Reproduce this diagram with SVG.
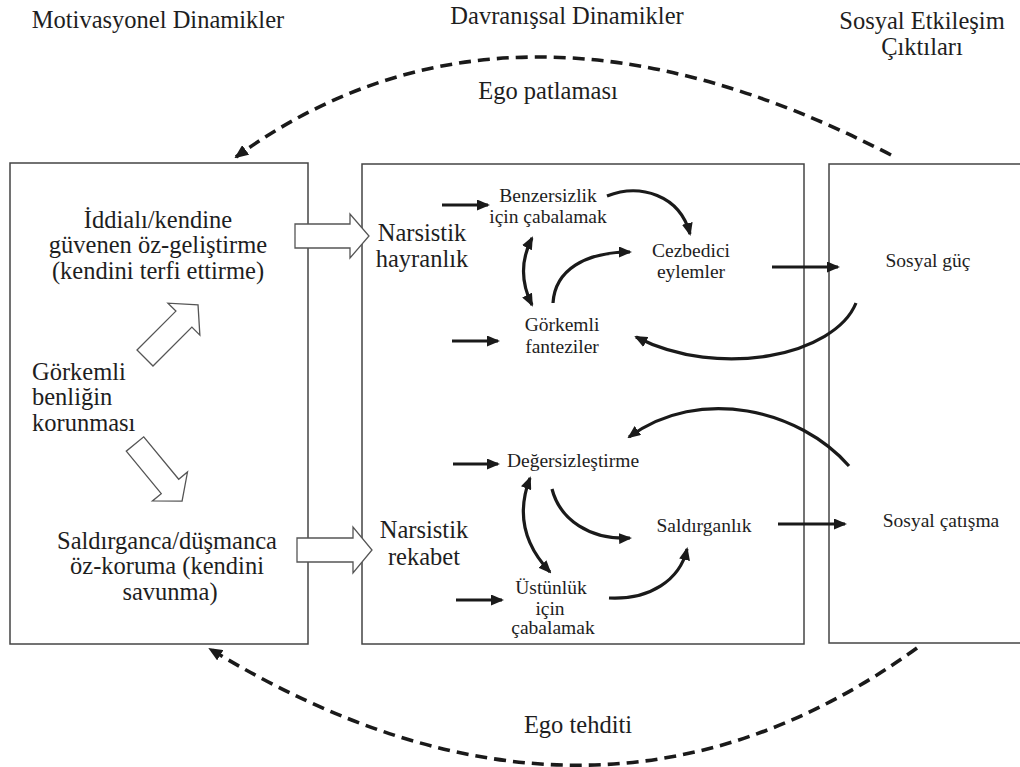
<svg xmlns="http://www.w3.org/2000/svg" width="1020" height="767" viewBox="0 0 1020 767">
<style>
text{font-family:"Liberation Serif","Times New Roman",serif;fill:#1e1e1e}
.b{font-size:24.5px;text-anchor:middle}
.bl{font-size:24.5px;text-anchor:start}
.s{font-size:19.5px;text-anchor:middle}
.box{fill:#fff;stroke:#444;stroke-width:1.5}
.hol{fill:#fff;stroke:#555;stroke-width:1.3;stroke-linejoin:miter}
.con{fill:none;stroke:#1a1a1a;stroke-width:3.2}
.dash{fill:none;stroke:#1a1a1a;stroke-width:3.6;stroke-dasharray:12 7}
</style>
<defs>
<marker id="ah" markerUnits="userSpaceOnUse" markerWidth="13" markerHeight="11" refX="11" refY="5.5" orient="auto-start-reverse" viewBox="0 0 13 11">
<path d="M0,0 L13,5.5 L0,11 z" fill="#1a1a1a"/>
</marker>
<marker id="dh" markerUnits="userSpaceOnUse" markerWidth="14" markerHeight="12" refX="12" refY="6" orient="auto" viewBox="0 0 14 12">
<path d="M0,0 L14,6 L0,12 z" fill="#1a1a1a"/>
</marker>
</defs>
<rect width="1020" height="767" fill="#fff"/>

<g id="titles">
<text class="b" x="158" y="28">Motivasyonel Dinamikler</text>
<text class="b" x="567" y="24">Davranışsal Dinamikler</text>
<text class="b" x="922" y="29">Sosyal Etkileşim</text>
<text class="b" x="922" y="55">Çıktıları</text>
</g>

<g id="box-motivational"><rect class="box" x="10" y="163" width="298" height="481"/></g>
<g id="box-behavioral"><rect class="box" x="362" y="164" width="442" height="480"/></g>
<g id="box-social"><rect class="box" x="829" y="164" width="200" height="479"/></g>

<g id="node-self-enhancement">
<text class="b" x="158" y="228">İddialı/kendine</text>
<text class="b" x="158" y="253">güvenen öz-geliştirme</text>
<text class="b" x="158" y="279">(kendini terfi ettirme)</text>
</g>
<g id="node-grandiose-self">
<text class="bl" x="32" y="380">Görkemli</text>
<text class="bl" x="32" y="405">benliğin</text>
<text class="bl" x="32" y="431">korunması</text>
</g>
<g id="node-self-protection">
<text class="b" x="167" y="549">Saldırganca/düşmanca</text>
<text class="b" x="167" y="574">öz-koruma (kendini</text>
<text class="b" x="170" y="600">savunma)</text>
</g>
<g id="node-admiration">
<text class="b" x="422" y="241">Narsistik</text>
<text class="b" x="422" y="267">hayranlık</text>
</g>
<g id="node-rivalry">
<text class="b" x="424" y="538">Narsistik</text>
<text class="b" x="424" y="565">rekabet</text>
</g>
<g id="node-uniqueness">
<text class="s" x="548" y="202">Benzersizlik</text>
<text class="s" x="548" y="223">için çabalamak</text>
</g>
<g id="node-charming">
<text class="s" x="691" y="257">Cezbedici</text>
<text class="s" x="691" y="278">eylemler</text>
</g>
<g id="node-fantasies">
<text class="s" x="562" y="331">Görkemli</text>
<text class="s" x="562" y="353">fanteziler</text>
</g>
<g id="node-devaluation">
<text class="s" x="573" y="467">Değersizleştirme</text>
</g>
<g id="node-aggression">
<text class="s" x="704" y="532">Saldırganlık</text>
</g>
<g id="node-supremacy">
<text class="s" x="551" y="594">Üstünlük</text>
<text class="s" x="550" y="615">için</text>
<text class="s" x="553" y="634">çabalamak</text>
</g>
<g id="node-social-power">
<text class="s" x="928" y="267">Sosyal güç</text>
</g>
<g id="node-social-conflict">
<text class="s" x="941" y="527">Sosyal çatışma</text>
</g>

<g id="connectors">
<polygon class="hol" transform="translate(145 358) rotate(-45)" points="0,-11.3 55,-11.3 55,-22.6 75,0 55,22.6 55,11.3 0,11.3"/>
<polygon class="hol" transform="translate(135 444) rotate(50.5)" points="0,-11.3 55,-11.3 55,-22.7 74,0 55,22.7 55,11.3 0,11.3"/>
<polygon class="hol" points="295,224 350,224 350,214 369,236 350,258 350,248 295,248"/>
<polygon class="hol" points="297,538 353,538 353,527 372,550 353,573 353,562 297,562"/>

<path class="con" d="M442 205 L488 205" marker-end="url(#ah)"/>
<path class="con" d="M607 196 C640 183 680 195 690 234" marker-end="url(#ah)"/>
<path class="con" d="M532 238 Q515 271 532 305" marker-start="url(#ah)" marker-end="url(#ah)"/>
<path class="con" d="M553 303 C555 270 585 252 630 252" marker-end="url(#ah)"/>
<path class="con" d="M452 341 L498 341" marker-end="url(#ah)"/>
<path class="con" d="M772 267 L838 267" marker-end="url(#ah)"/>
<path class="con" d="M856 303 C835 355 720 380 636 337" marker-end="url(#ah)"/>

<path class="con" d="M849 466 C800 410 700 385 629 437" marker-end="url(#ah)"/>
<path class="con" d="M453 464 L498 464" marker-end="url(#ah)"/>
<path class="con" d="M530 478 Q510 530 550 572" marker-start="url(#ah)" marker-end="url(#ah)"/>
<path class="con" d="M552 489 C560 520 590 540 630 538" marker-end="url(#ah)"/>
<path class="con" d="M609 598 C650 600 680 580 687 549" marker-end="url(#ah)"/>
<path class="con" d="M456 600 L502 600" marker-end="url(#ah)"/>
<path class="con" d="M778 524 L845 524" marker-end="url(#ah)"/>

<path class="dash" d="M891 155 Q510 -42 236 157" marker-end="url(#dh)"/>
<path class="dash" d="M917 648 Q593 882 210 649" marker-end="url(#dh)"/>
</g>

<g id="edge-labels">
<text class="b" x="548" y="99">Ego patlaması</text>
<text class="b" x="578" y="733">Ego tehditi</text>
</g>
</svg>
